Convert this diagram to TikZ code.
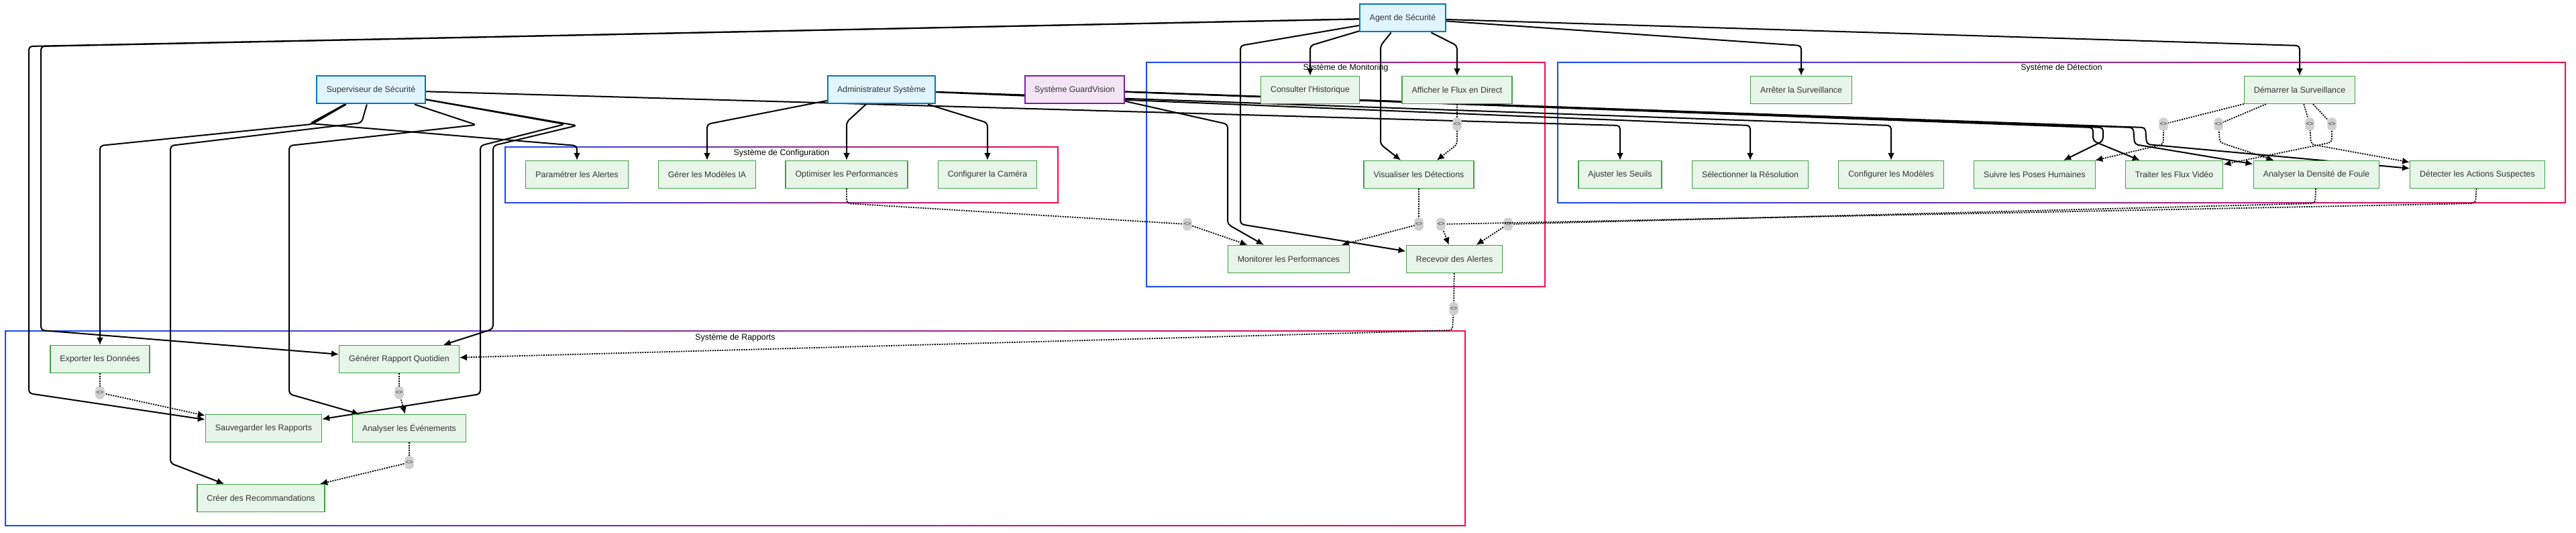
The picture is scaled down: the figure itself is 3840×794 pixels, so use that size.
\documentclass[tikz,border=0pt]{standalone}
\usepackage{fontspec}
\setmainfont{Liberation Sans}
\usetikzlibrary{arrows.meta,positioning}

\definecolor{ucfill}{HTML}{E8F5E9}
\definecolor{ucdraw}{HTML}{43A047}
\definecolor{actfill}{HTML}{E1F5FE}
\definecolor{actdraw}{HTML}{0277BD}
\definecolor{sysfill}{HTML}{F3E5F5}
\definecolor{sysdraw}{HTML}{7B1FA2}
\definecolor{txtgray}{HTML}{333333}
\definecolor{lblgray}{HTML}{D0D0D0}
\definecolor{clblue}{RGB}{30,80,240}
\definecolor{clmid}{RGB}{125,50,185}
\definecolor{clred}{RGB}{240,20,80}

\pgfdeclarelayer{clusters}
\pgfdeclarelayer{edges}
\pgfsetlayers{clusters,edges,main}

\begin{document}
\begin{tikzpicture}[
    x=1pt,
    y=-1pt,
    font=\fontsize{12.4}{15}\selectfont,
    usecase/.style={
        rectangle,
        draw=ucdraw,
        fill=ucfill,
        line width=1.3pt,
        minimum height=41pt,
        inner xsep=14.5pt,
        text=txtgray
    },
    actor/.style={
        usecase,
        draw=actdraw,
        fill=actfill,
        line width=2pt
    },
    sysactor/.style={
        actor,
        draw=sysdraw,
        fill=sysfill
    },
    tag/.style={
        fill=lblgray,
        text=txtgray,
        font=\fontsize{9}{10}\selectfont,
        inner xsep=1.5pt,
        inner ysep=0pt,
        minimum width=13pt,
        minimum height=19pt
    },
    flow/.style={
        draw,
        line width=2pt,
        rounded corners=5pt,
        -{Latex[length=11pt,width=10pt]}
    },
    dep/.style={
        draw,
        line width=1.8pt,
        dash pattern=on 2pt off 1.6pt,
        rounded corners=5pt,
        -{Latex[length=11pt,width=10pt]}
    }
]
\useasboundingbox (0,0) rectangle (3840,794);

% Clusters
\begin{pgfonlayer}{clusters}
\shade[left color=clblue, middle color=clmid, right color=clred, even odd rule]
    (752,218) rectangle (1578,303) (754,220) rectangle (1576,301);
\shade[left color=clblue, middle color=clmid, right color=clred, even odd rule]
    (1708,92) rectangle (2304,428) (1710,94) rectangle (2302,426);
\shade[left color=clblue, middle color=clmid, right color=clred, even odd rule]
    (2321,92) rectangle (3825,303) (2323,94) rectangle (3823,301);
\shade[left color=clblue, middle color=clmid, right color=clred, even odd rule]
    (7,492) rectangle (2185,784) (9,494) rectangle (2183,782);
\end{pgfonlayer}
\node at (1165,228) {Système de Configuration};
\node at (2006,101) {Système de Monitoring};
\node at (3073,101) {Système de Détection};
\node at (1096,503) {Système de Rapports};

% Actors
\node[actor] (agent) at (2091,27) {Agent de Sécurité};
\node[actor] (superviseur) at (553,134) {Superviseur de Sécurité};
\node[actor] (admin) at (1314,134) {Administrateur Système};
\node[sysactor] (guardvision) at (1602,134) {Système GuardVision};

% Monitoring
\node[usecase] (consulter) at (1953,134) {Consulter l'Historique};
\node[usecase] (afficher) at (2172,134) {Afficher le Flux en Direct};
\node[usecase] (visualiser) at (2115,260) {Visualiser les Détections};
\node[usecase] (monitorer) at (1921,386) {Monitorer les Performances};
\node[usecase] (recevoir) at (2168,386) {Recevoir des Alertes};

% Detection
\node[usecase] (arreter) at (2685,134) {Arrêter la Surveillance};
\node[usecase] (demarrer) at (3428,134) {Démarrer la Surveillance};
\node[usecase] (ajuster) at (2415,260) {Ajuster les Seuils};
\node[usecase] (resolution) at (2609,260) {Sélectionner la Résolution};
\node[usecase] (modeles) at (2819,260) {Configurer les Modèles};
\node[usecase] (poses) at (3033,260) {Suivre les Poses Humaines};
\node[usecase] (flux) at (3241,260) {Traiter les Flux Vidéo};
\node[usecase] (densite) at (3453,260) {Analyser la Densité de Foule};
\node[usecase] (actions) at (3693,260) {Détecter les Actions Suspectes};

% Configuration
\node[usecase] (alertes) at (860,260) {Paramétrer les Alertes};
\node[usecase] (modelesia) at (1054,260) {Gérer les Modèles IA};
\node[usecase] (optimiser) at (1262,260) {Optimiser les Performances};
\node[usecase] (camera) at (1472,260) {Configurer la Caméra};

% Rapports
\node[usecase] (exporter) at (149,535) {Exporter les Données};
\node[usecase] (rapport) at (595,535) {Générer Rapport Quotidien};
\node[usecase] (sauvegarder) at (393,638) {Sauvegarder les Rapports};
\node[usecase] (evenements) at (610,638) {Analyser les Événements};
\node[usecase] (recommandations) at (389,742) {Créer des Recommandations};

\begin{pgfonlayer}{edges}
% Agent de Securite
\path[flow] (agent) -- (1953,68) -- (consulter);
\path[flow] (agent) -- (2172,68) -- (afficher);
\path[flow] (agent) -- (2058,68) -- (2058,215) -- (visualiser);
\path[flow] (agent) -- (1849,68) -- (1849,334) -- (recevoir);
\path[flow] (agent) -- (2685,68) -- (arreter);
\path[flow] (agent) -- (3428,68) -- (demarrer);
\path[flow] (agent) -- (43,69) -- (43,586) -- (sauvegarder);
\path[flow] (agent) -- (61,69) -- (61,492) -- (rapport);

% Superviseur
\path[flow] (superviseur) -- (465,185) -- (149,217) -- (exporter);
\path[flow] (superviseur) -- (462,184) -- (860,217) -- (alertes);
\path[flow] (superviseur) -- (539,183) -- (254,217) -- (254,690) -- (recommandations);
\path[flow] (superviseur) -- (710,186) -- (431,217) -- (431,587) -- (evenements);
\path[flow] (superviseur) -- (842,185) -- (716,217) -- (716,587) -- (sauvegarder);
\path[flow] (superviseur) -- (860,187) -- (735,217) -- (735,490) -- (rapport);
\path[flow] (superviseur) -- (2415,187) -- (ajuster);

% Administrateur
\path[flow] (admin) -- (1054,185) -- (modelesia);
\path[flow] (admin) -- (1262,182) -- (optimiser);
\path[flow] (admin) -- (1472,183) -- (camera);
\path[flow] (admin) -- (2609,187) -- (resolution);
\path[flow] (admin) -- (2819,187) -- (modeles);

% GuardVision
\path[flow] (guardvision) -- (1830,185) -- (1830,334) -- (monitorer);
\path[flow] (guardvision) -- (3135,190) -- (3135,210) -- (poses);
\path[flow] (guardvision) -- (3120,190) -- (3120,210) -- (flux);
\path[flow] (guardvision) -- (3180,190) -- (3182,215) -- (densite);
\path[flow] (guardvision) -- (3198,190) -- (3200,215) -- (actions);

% Dependances
\path[dep] (afficher) -- (2172,185) node[tag] {<>} -- (2172,215) -- (visualiser);
\path[dep] (visualiser) -- (2115,334) node[tag] {<>} -- (monitorer);
\path[dep] (optimiser) -- (1262,303) -- (1770,334) node[tag] {<>} -- (monitorer);
\path[dep] (densite) -- (3451,303) -- (2248,334) node[tag] {<>} -- (recevoir);
\path[dep] (actions) -- (3690,303) -- (2148,334) node[tag] {<>} -- (recevoir);
\path[dep] (recevoir) -- (2167,460) node[tag] {<>} -- (2165,492) -- (rapport);
\path[dep] (demarrer) -- (3225,185) node[tag] {<>} -- (3225,215) -- (poses);
\path[dep] (demarrer) -- (3307,185) node[tag] {<>} -- (3309,212) -- (densite);
\path[dep] (demarrer) -- (3443,185) node[tag] {<>} -- (3445,215) -- (actions);
\path[dep] (demarrer) -- (3476,185) node[tag] {<>} -- (3476,212) -- (flux);
\path[dep] (rapport) -- (595,585) node[tag] {<>} -- (evenements);
\path[dep] (exporter) -- (149,585) node[tag] {<>} -- (sauvegarder);
\path[dep] (evenements) -- (610,689) node[tag] {<>} -- (recommandations);
\end{pgfonlayer}

\end{tikzpicture}
\end{document}
